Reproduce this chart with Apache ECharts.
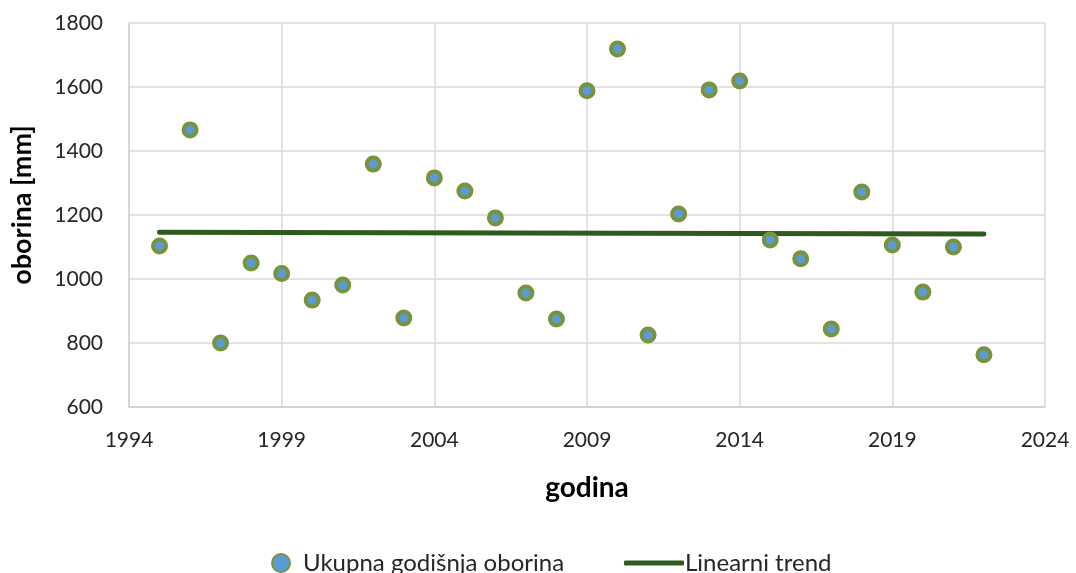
<!DOCTYPE html>
<html>
<head>
<meta charset="utf-8">
<script src="https://cdn.jsdelivr.net/npm/echarts@6/dist/echarts.min.js"></script>
<style>
  html, body { margin: 0; padding: 0; background: #fff; }
  #chart { width: 1076px; height: 573px; }
</style>
</head>
<body>
<div id="chart"></div>
<script>
// godine i ukupna godisnja oborina (mm), ocitano sa slike
const years = [1995, 1996, 1997, 1998, 1999, 2000, 2001, 2002, 2003, 2004,
  2005, 2006, 2007, 2008, 2009, 2010, 2011, 2012, 2013, 2014,
  2015, 2016, 2017, 2018, 2019, 2020, 2021, 2022];
const oborina = [1103, 1466, 800, 1050, 1017, 934, 981, 1359, 878, 1316,
  1275, 1191, 956, 875, 1588, 1719, 825, 1203, 1591, 1619,
  1122, 1063, 844, 1272, 1106, 959, 1100, 763];
// linearni trend, krajnje tocke
const trendYears = [1995, 2022];
const trendValues = [1146, 1141];

const font = 'Lato';
const chart = echarts.init(document.getElementById('chart'));

const option = {
  backgroundColor: '#ffffff',
  animation: false,
  textStyle: { fontFamily: font },
  grid: { left: 129, right: 31, top: 23, bottom: 166 },
  legend: [{
    left: 266, top: 546,
    itemWidth: 18, itemHeight: 18, itemGap: 10,
    textStyle: { fontFamily: font, fontSize: 24, color: '#262626', padding: [0, 0, 0, 8] },
    data: ['Ukupna godišnja oborina']
  }, {
    left: 619, top: 546,
    itemWidth: 60, itemHeight: 5, itemGap: 2,
    textStyle: { fontFamily: font, fontSize: 24, color: '#262626', padding: [0, 0, 0, -4] },
    data: [{ name: 'Linearni trend', icon: 'roundRect' }]
  }],
  xAxis: {
    type: 'value',
    min: 1994, max: 2024, interval: 5,
    name: 'godina',
    nameLocation: 'middle',
    nameGap: 67,
    nameTextStyle: { fontFamily: font, fontSize: 28, fontWeight: 'bold', color: '#000' },
    axisLine: { show: true, lineStyle: { color: '#d0d0d0', width: 1.5 } },
    axisTick: { show: false },
    axisLabel: { fontFamily: font, fontSize: 21, color: '#262626', margin: 23, formatter: v => String(v) },
    splitLine: { show: true, lineStyle: { color: '#d9d9d9', width: 1.5 } }
  },
  yAxis: {
    type: 'value',
    min: 600, max: 1800, interval: 200,
    name: 'oborina [mm]',
    nameLocation: 'middle',
    nameGap: 93,
    nameTextStyle: { fontFamily: font, fontSize: 27, fontWeight: 'bold', color: '#000', padding: [0, 0, 0, 20] },
    axisLine: { show: true, lineStyle: { color: '#d0d0d0', width: 1.5 } },
    axisTick: { show: false },
    axisLabel: { fontFamily: font, fontSize: 21, color: '#262626', margin: 26, formatter: v => String(v) },
    splitLine: { show: true, lineStyle: { color: '#d9d9d9', width: 1.5 } }
  },
  series: [{
    name: 'Ukupna godišnja oborina',
    type: 'scatter',
    symbol: 'circle',
    symbolSize: 13,
    itemStyle: { color: '#5b9bd5', borderColor: '#77933c', borderWidth: 4, opacity: 1 },
    data: years.map((y, i) => [y, oborina[i]]),
    z: 3
  }, {
    name: 'Linearni trend',
    type: 'line',
    symbol: 'none',
    lineStyle: { color: '#2f5a1e', width: 5, cap: 'round' },
    itemStyle: { color: '#2f5a1e' },
    data: trendYears.map((y, i) => [y, trendValues[i]]),
    z: 2
  }]
};

chart.setOption(option);
</script>
</body>
</html>
